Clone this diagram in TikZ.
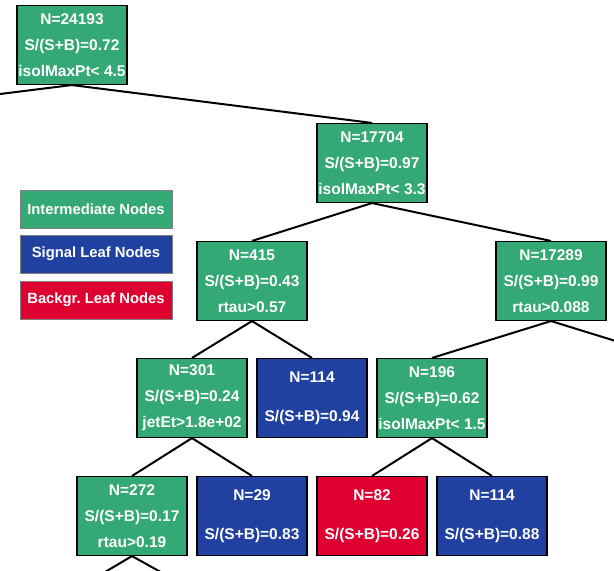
\documentclass[tikz,border=0pt]{standalone}
\usepackage{fontspec}
\setmainfont{Liberation Sans}
\usepackage{tikz}

\definecolor{nodegreen}{RGB}{52,168,117}
\definecolor{sigblue}{RGB}{33,65,160}
\definecolor{bkgred}{RGB}{221,0,48}

\begin{document}
\begin{tikzpicture}[x=1pt, y=-1pt,
    box/.style = {draw=black, line width=1.1pt, text=white, align=center,
        minimum width=110pt, minimum height=79pt, inner sep=0pt,
        font=\bfseries\fontsize{15.5}{26}\selectfont},
    interm/.style = {box, fill=nodegreen},
    sigleaf/.style = {box, fill=sigblue},
    bkgleaf/.style = {box, fill=bkgred},
    legbox/.style = {draw=gray, line width=1pt, text=white,
        minimum width=152pt, minimum height=38pt, inner sep=0pt,
        font=\bfseries\fontsize{14.8}{16}\selectfont},
    branch/.style = {line width=2pt}]
    \useasboundingbox (0,0) rectangle (614,571);

    % Legend
    \node[legbox, fill=nodegreen] (legI) at (96,209) {Intermediate Nodes};
    \node[legbox, fill=sigblue] (legS) at (96,254) {Signal Leaf Nodes};
    \node[legbox, fill=bkgred] (legB) at (96,300) {Backgr.\ Leaf Nodes};

    % Off-canvas ends
    \coordinate (offL) at (0,94);
    \coordinate (offR) at (622,343);
    \coordinate (offA) at (100,575);
    \coordinate (offB) at (166,575);

    % Tree nodes
    \node[interm] (n24193) at (72,45) {N=24193\\S/(S+B)=0.72\\isolMaxPt< 4.5};
    \node[interm] (n17704) at (372,163) {N=17704\\S/(S+B)=0.97\\isolMaxPt< 3.3};
    \node[interm] (n415) at (252,281) {N=415\\S/(S+B)=0.43\\rtau>0.57};
    \node[interm] (n17289) at (551,281) {N=17289\\S/(S+B)=0.99\\rtau>0.088};
    \node[interm] (n301) at (192,398) {N=301\\S/(S+B)=0.24\\jetEt>1.8e+02};
    \node[sigleaf] (n114a) at (312,398) {N=114\\[13pt]S/(S+B)=0.94};
    \node[interm] (n196) at (432,398) {N=196\\S/(S+B)=0.62\\isolMaxPt< 1.5};
    \node[interm] (n272) at (132,516) {N=272\\S/(S+B)=0.17\\rtau>0.19};
    \node[sigleaf] (n29) at (252,516) {N=29\\[13pt]S/(S+B)=0.83};
    \node[bkgleaf] (n82) at (372,516) {N=82\\[13pt]S/(S+B)=0.26};
    \node[sigleaf] (n114b) at (492,516) {N=114\\[13pt]S/(S+B)=0.88};

    % Branches
    \draw[branch] (n24193.south) -- (offL);
    \draw[branch] (n24193.south) -- (n17704.north);
    \draw[branch] (n17704.south) -- (n415.north);
    \draw[branch] (n17704.south) -- (n17289.north);
    \draw[branch] (n415.south) -- (n301.north);
    \draw[branch] (n415.south) -- (n114a.north);
    \draw[branch] (n17289.south) -- (n196.north);
    \draw[branch] (n17289.south) -- (offR);
    \draw[branch] (n301.south) -- (n272.north);
    \draw[branch] (n301.south) -- (n29.north);
    \draw[branch] (n196.south) -- (n82.north);
    \draw[branch] (n196.south) -- (n114b.north);
    \draw[branch] (n272.south) -- (offA);
    \draw[branch] (n272.south) -- (offB);
\end{tikzpicture}
\end{document}
